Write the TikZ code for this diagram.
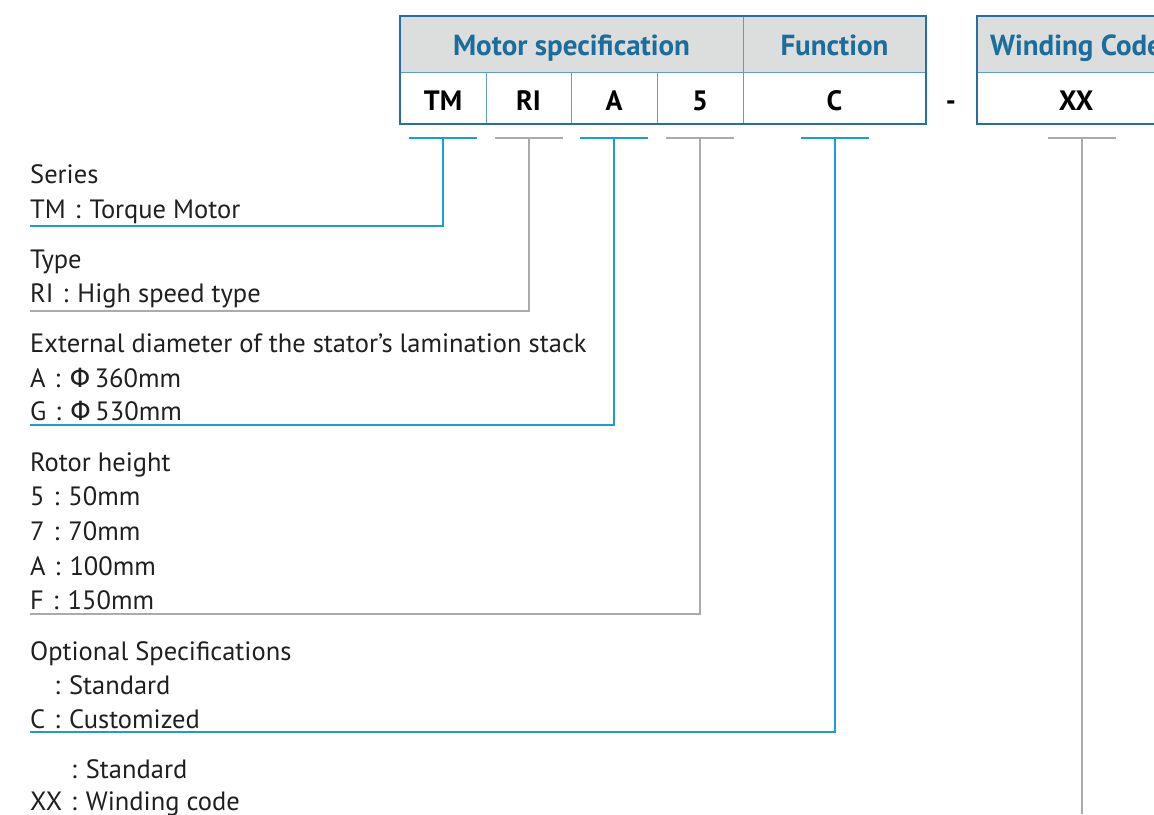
\documentclass[tikz,border=0pt]{standalone}
\usepackage{fontspec}
\setmainfont{PT Sans}
\newfontfamily\phifont{DejaVu Sans}
\usetikzlibrary{positioning,calc}

\definecolor{hdrblue}{HTML}{1B6D9B}
\definecolor{hdrgray}{HTML}{DCDDDD}
\definecolor{frameblue}{HTML}{2470A4}
\definecolor{gridblue}{HTML}{5E9DC8}
\definecolor{lineblue}{HTML}{1E9BD7}
\definecolor{linegray}{HTML}{ABABAB}

\newcommand{\cln}{\hspace{9pt}:\hspace{9pt}}

\begin{document}
\begin{tikzpicture}[x=1pt, y=-1pt,
  txt/.style={anchor=base west, inner sep=0pt, text=black!88,
    font=\fontsize{26.5}{31}\selectfont},
  hdr/.style={anchor=base, inner sep=0pt, text=hdrblue, font=\fontsize{29}{34}\selectfont\bfseries},
  val/.style={anchor=base, inner sep=0pt, text=black, font=\fontsize{28}{33}\selectfont\bfseries},
  lead/.style={line width=1.6pt}]
\clip (0,0) rectangle (1154,814);

% code table
\fill[hdrgray] (400,16) rectangle (926,72);
\fill[hdrgray] (977,16) rectangle (1180,72);
\draw[gridblue, line width=1pt] (400,72) -- (926,72) (977,72) -- (1180,72);
\foreach \x in {486,571,657} \draw[gridblue, line width=1pt] (\x,72) -- (\x,124);
\draw[gridblue, line width=1pt] (743,16) -- (743,124);
\draw[frameblue, line width=2.2pt] (400,16) rectangle (926,124);
\draw[frameblue, line width=2.2pt] (977,16) rectangle (1180,124);

\node[hdr] (hSpec) at (571.5,55) {Motor specification};
\node[hdr] (hFunc) at (834.5,55) {Function};
\node[hdr] (hWind) at (1076,55) {Winding Code};
\node[val] (vTM) at (443,110) {TM};
\node[val] (vRI) at (528.5,110) {RI};
\node[val] (vA) at (614,110) {A};
\node[val] (v5) at (700,110) {5};
\node[val] (vC) at (834.5,110) {C};
\node[val] (dash) at (951,110) {-};
\node[val] (vXX) at (1076,110) {XX};

% explanations
\node[txt] (ser) at (30,183) {Series};
\node[txt] (serTM) at (30,218) {TM\cln Torque Motor};
\node[txt] (typ) at (30,268) {Type};
\node[txt] (typRI) at (30,302) {RI\cln High speed type};
\node[txt] (dia) at (30,352) {External diameter of the stator’s lamination stack};
\node[txt] (diaA) at (30,387) {A\cln{\phifont Φ}\,360mm};
\node[txt] (diaG) at (30,420) {G\cln{\phifont Φ}\,530mm};
\node[txt] (hgt) at (30,471) {Rotor height};
\node[txt] (hgt5) at (30,505) {5\cln 50mm};
\node[txt] (hgt7) at (30,540) {7\cln 70mm};
\node[txt] (hgtA) at (30,575) {A\cln 100mm};
\node[txt] (hgtF) at (30,609) {F\cln 150mm};
\node[txt] (opt) at (30,660) {Optional Specifications};
\node[txt] (optS) at (30,694) {\phantom{C}\cln Standard};
\node[txt] (optC) at (30,728) {C\cln Customized};
\node[txt] (wndS) at (30,778) {\phantom{XX}\cln Standard};
\node[txt] (wndX) at (30,810) {XX\cln Winding code};

% leader lines
\foreach \n/\x/\y/\c in {TM/443/226/lineblue, RI/529/311/linegray,
    A/614/425/lineblue, 5/700/614/linegray, C/835/732/lineblue} {
  \coordinate (t\n) at (\x,138);
  \coordinate (e\n) at (30,\y);
  \draw[lead, \c] ([xshift=-34pt]t\n) -- ([xshift=34pt]t\n);
  \draw[lead, \c] (t\n) |- (e\n);
}
\coordinate (tXX) at (1082,138);
\coordinate (eXX) at (1082,814);
\draw[lead, linegray] ([xshift=-34pt]tXX) -- ([xshift=34pt]tXX);
\draw[lead, linegray] (tXX) -- (eXX);
\end{tikzpicture}
\end{document}
